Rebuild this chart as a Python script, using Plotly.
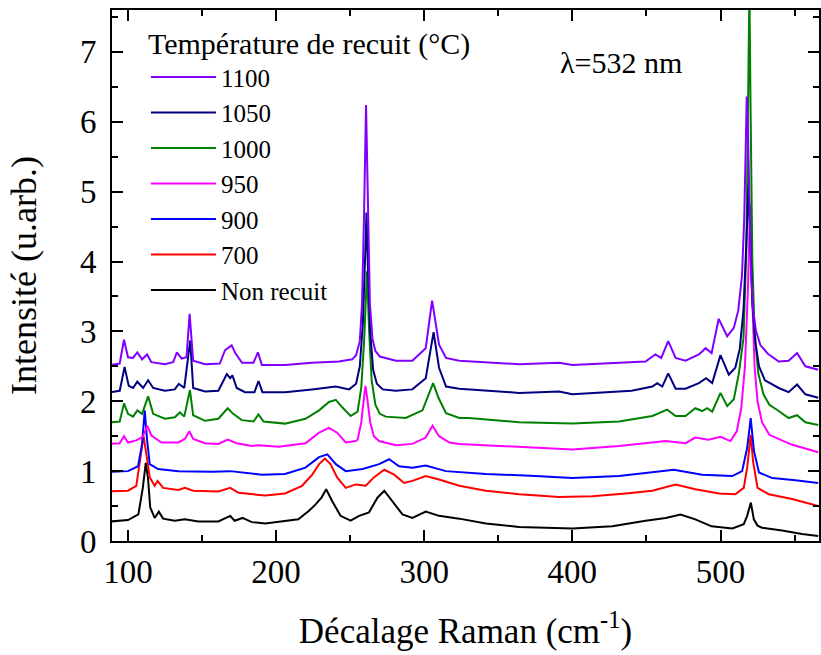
import plotly.graph_objects as go

# Raman spectra (x: cm-1, y: intensity u.arb.)
non_recuit = [(88.7,0.28),(100,0.30),(107,0.38),(110,0.76),(112,1.12),(113.5,0.90),(115,0.48),(118,0.33),
    (120.8,0.42),(123.7,0.32),(131.6,0.29),(138.4,0.31),(147.5,0.28),(161,0.28),(169,0.36),(172,0.29),
    (177.3,0.33),(183.6,0.27),(192.7,0.25),(206,0.28),(215,0.31),(222,0.43),(226.5,0.52),(230.6,0.62),
    (233.8,0.74),(237.9,0.57),(243.5,0.36),(250.3,0.29),(256,0.36),(262.7,0.41),(268.4,0.62),(273,0.72),
    (278.5,0.57),(285.3,0.38),(292,0.33),(301,0.42),(310,0.36),(323.6,0.32),(341.6,0.25),(364,0.20),
    (400,0.18),(427,0.21),(449.4,0.29),(463,0.33),(473,0.38),(483,0.31),(494,0.21),(508,0.18),
    (515.7,0.24),(518,0.36),(520.5,0.55),(522.5,0.31),(525,0.22),(528,0.19),(541.6,0.15),(555,0.10),(566,0.07)]

t700 = [(88.7,0.71),(100,0.72),(105.6,0.79),(108.6,1.19),(110.5,1.50),(112.4,1.24),(114.7,0.91),(118,0.79),
    (120,0.86),(123.7,0.76),(134,0.73),(138.4,0.76),(144,0.72),(161,0.71),(169,0.76),(174.6,0.69),
    (192.7,0.65),(206,0.68),(217.5,0.79),(224.4,0.95),(229,1.10),(233,1.18),(236.7,1.10),(241.2,0.91),
    (247,0.76),(253.7,0.81),(260.5,0.79),(266,0.91),(273,1.02),(279.7,0.95),(286.4,0.83),(292,0.86),
    (301,0.93),(310,0.88),(323.6,0.79),(341.6,0.72),(364,0.67),(391,0.63),(413.5,0.64),(436,0.68),
    (454,0.72),(469.7,0.81),(483,0.74),(499,0.68),(510,0.67),(515.7,0.76),(518,1.05),(520.4,1.52),
    (522,1.14),(525,0.76),(532.6,0.67),(548.3,0.60),(566,0.50)]

t900 = [(88.7,0.99),(100,1.00),(106.8,1.07),(109.5,1.39),(111.3,1.87),(112.9,1.44),(114.7,1.10),(120.3,1.03),
    (134,1.00),(156.5,0.99),(169,1.00),(190.4,0.95),(206,0.96),(219.8,1.05),(229,1.20),(234.6,1.24),
    (240.3,1.10),(247,1.00),(258.5,1.03),(269.5,1.10),(276.3,1.17),(283,1.07),(292,1.05),(301,1.08),
    (314.6,1.00),(341.6,0.96),(375,0.93),(400,0.90),(431.5,0.93),(454,0.98),(468.5,1.02),(487.6,0.95),
    (508,0.93),(514.6,1.00),(518,1.33),(520.4,1.76),(522.6,1.29),(526,0.98),(535,0.90),(550.6,0.87),(566,0.83)]

t950 = [(88.7,1.39),(94.4,1.40),(97.3,1.50),(100,1.41),(105.6,1.44),(110,1.49),(113,1.65),(115.8,1.51),
    (122.6,1.41),(134,1.41),(138.4,1.46),(141.4,1.57),(144,1.46),(152,1.40),(161,1.39),(167.3,1.45),
    (173.4,1.40),(183.6,1.36),(188.1,1.37),(201.7,1.35),(219.8,1.40),(229,1.55),(235.7,1.62),(241.2,1.55),
    (247,1.41),(253.7,1.43),(255,1.45),(257.5,1.70),(259.3,2.05),(260.3,2.22),(261.5,2.05),(263.5,1.70),
    (266,1.50),(269.5,1.43),(280.8,1.37),(292,1.39),(301,1.48),(305.6,1.65),(310,1.50),(317,1.41),
    (323.6,1.39),(352.8,1.36),(400,1.31),(431.5,1.36),(463,1.43),(476.4,1.40),(483,1.48),(492,1.45),
    (500,1.49),(506.7,1.43),(511,1.57),(514,1.90),(516.5,2.50),(518.5,3.60),(520,4.80),(521.3,3.60),
    (523,2.50),(525,2.00),(528,1.70),(533,1.52),(548,1.38),(566,1.27)]

t1000 = [(88.7,1.70),(94.4,1.71),(97.3,1.97),(100,1.82),(103.4,1.78),(106.3,1.87),(109.5,1.82),(113.6,2.07),
    (117,1.82),(124.9,1.75),(131.6,1.77),(135,1.84),(138,1.78),(141.8,2.16),(144,1.80),(152,1.72),
    (161,1.75),(167.3,1.90),(171,1.82),(176.8,1.73),(184.7,1.71),(188.1,1.81),(191.5,1.71),(206,1.68),
    (219.8,1.75),(229,1.87),(235.7,1.99),(240.3,2.02),(244.8,1.91),(250.3,1.79),(255,1.85),(257.5,2.20),
    (259.5,2.90),(261.3,3.86),(262.8,3.00),(264.5,2.30),(267,1.95),(270,1.82),(274,1.78),(287.5,1.76),
    (298.8,1.87),(303.3,2.10),(306,2.26),(309.6,2.05),(314.7,1.83),(323.7,1.76),(330,1.76),(364,1.70),
    (400,1.68),(431.5,1.71),(454,1.79),(464,1.88),(469.7,1.79),(476.4,1.79),(483,1.90),(487.6,1.86),
    (491,1.90),(494.4,1.85),(500,2.12),(504.5,1.93),(509,2.03),(512.4,2.40),(515.5,2.90),(517.5,4.20),
    (518.8,6.00),(519.5,7.90),(520.3,6.20),(521.5,4.00),(523,3.00),(525.5,2.40),(529,2.10),(533,1.95),
    (539.3,1.86),(546,1.76),(551.7,1.80),(557.3,1.70),(566,1.66)]

t1050 = [(88.7,2.13),(94.4,2.15),(97.7,2.49),(100.5,2.22),(103.4,2.19),(106.3,2.28),(110.2,2.19),(113.6,2.30),
    (117,2.19),(124.9,2.15),(131.6,2.17),(134.3,2.25),(138,2.19),(142,2.87),(144,2.19),(152,2.14),
    (161,2.15),(166.7,2.39),(169,2.33),(170.5,2.37),(173.4,2.19),(179,2.13),(185.4,2.13),(188.1,2.29),
    (190.8,2.13),(206,2.13),(224.2,2.17),(240.3,2.21),(249.3,2.17),(254,2.25),(256.5,2.50),(258.5,3.10),
    (260,4.00),(261,4.70),(262,3.90),(263.5,3.00),(265.5,2.45),(268,2.25),(272,2.17),(280.8,2.15),
    (292,2.17),(301,2.33),(306.3,2.99),(310,2.48),(314.7,2.21),(323.6,2.18),(364,2.12),(391,2.14),
    (400,2.10),(440,2.15),(454,2.21),(457.3,2.26),(460.7,2.21),(464.7,2.40),(469.7,2.18),(476.4,2.18),
    (485.4,2.26),(490.3,2.33),(494.4,2.26),(500,2.66),(505.6,2.38),(510,2.48),(513,2.75),(515.5,3.30),
    (517.5,4.30),(519,5.10),(520.3,4.20),(521.5,3.40),(523.5,2.85),(526,2.50),(530,2.30),(539.3,2.19),
    (546,2.13),(551.7,2.24),(557.3,2.10),(566,2.05)]

t1100 = [(88.7,2.52),(94.4,2.54),(97.3,2.88),(100,2.63),(103.4,2.62),(106.3,2.70),(109.5,2.60),(112.9,2.67),
    (115.8,2.56),(124.9,2.53),(130.5,2.56),(133,2.70),(136.2,2.61),(139.5,2.63),(141.6,3.25),(144,2.58),
    (152,2.53),(162,2.54),(165.5,2.73),(168.3,2.77),(170,2.80),(172.4,2.69),(177,2.55),(184.7,2.55),
    (187.7,2.70),(190.4,2.52),(206,2.52),(224.2,2.55),(242.4,2.57),(251.4,2.60),(254,2.66),(256.5,2.86),
    (258,3.40),(259.3,4.60),(260.2,5.80),(260.7,6.24),(261.3,5.60),(262.2,4.50),(263.3,3.40),(265,2.90),
    (267,2.72),(270,2.64),(280.8,2.58),(292,2.58),(301,2.76),(305.3,3.44),(310,2.81),(314.7,2.62),
    (323.6,2.58),(364,2.53),(391,2.55),(400,2.52),(436,2.55),(449.4,2.57),(456,2.67),(460,2.62),
    (464.7,2.86),(469.7,2.62),(476.4,2.58),(485.4,2.67),(490,2.76),(494,2.69),(498.8,3.18),(504.5,2.93),
    (509,3.05),(512,3.30),(514.5,3.80),(516,4.60),(517,5.60),(517.7,6.36),(518.5,5.90),(519.5,4.60),
    (520.5,3.90),(522,3.30),(524,3.00),(527,2.80),(532,2.68),(539.3,2.57),(546,2.58),(551.7,2.69),
    (557.3,2.50),(566,2.45)]

series_names = ["Non recuit", "700", "900", "950", "1000", "1050", "1100"]
series_data = [non_recuit, t700, t900, t950, t1000, t1050, t1100]
series_colors = ["#000000", "#ff0000", "#0000ff", "#ff00ff", "#008000", "#000080", "#8000ff"]

FONT = "Liberation Serif"

fig = go.Figure()
for name, pts, col in zip(series_names, series_data, series_colors):
    fig.add_trace(go.Scatter(
        x=[p[0] for p in pts], y=[p[1] for p in pts], mode="lines", name=name,
        line=dict(color=col, width=2)))

axis_common = dict(
    showline=True, linewidth=2, linecolor="black", mirror="ticks",
    ticks="inside", ticklen=11, tickwidth=2, tickcolor="black",
    showgrid=False, zeroline=False, automargin=False,
    tickfont=dict(family=FONT, size=33, color="black"),
)

fig.update_layout(
    width=821, height=655,
    margin=dict(l=112, r=2, t=10, b=114),
    plot_bgcolor="white", paper_bgcolor="white",
    font=dict(family=FONT, color="black"),
    xaxis=dict(axis_common, range=[89.2, 566.5], tick0=0, dtick=100,
               minor=dict(dtick=50, ticks="inside", ticklen=6, tickwidth=2, tickcolor="black"),
               ticklabelstandoff=0,
               title=dict(text="Décalage Raman (cm<sup>-1</sup>)", font=dict(family=FONT, size=35), standoff=30)),
    yaxis=dict(axis_common, range=[0, 7.6], tick0=0, dtick=1,
               minor=dict(dtick=0.5, ticks="inside", ticklen=6, tickwidth=2, tickcolor="black"),
               ticklabelstandoff=7,
               title=dict(text="Intensité (u.arb.)", font=dict(family=FONT, size=36), standoff=32)),
    legend=dict(
        x=0.048, y=0.99, xanchor="left", yanchor="top",
        traceorder="reversed", itemwidth=65, bgcolor="rgba(0,0,0,0)",
        font=dict(family=FONT, size=25, color="black"),
        title=dict(text="Température de recuit (°C)", font=dict(family=FONT, size=30)),
        tracegroupgap=0,
    ),
    annotations=[dict(x=432.6, y=6.85, xref="x", yref="y", text="λ=532 nm", showarrow=False,
                      font=dict(family=FONT, size=30, color="black"))],
)

fig.write_html("out.html", config={"displayModeBar": False},
               post_script="document.body.style.margin='0px';")
